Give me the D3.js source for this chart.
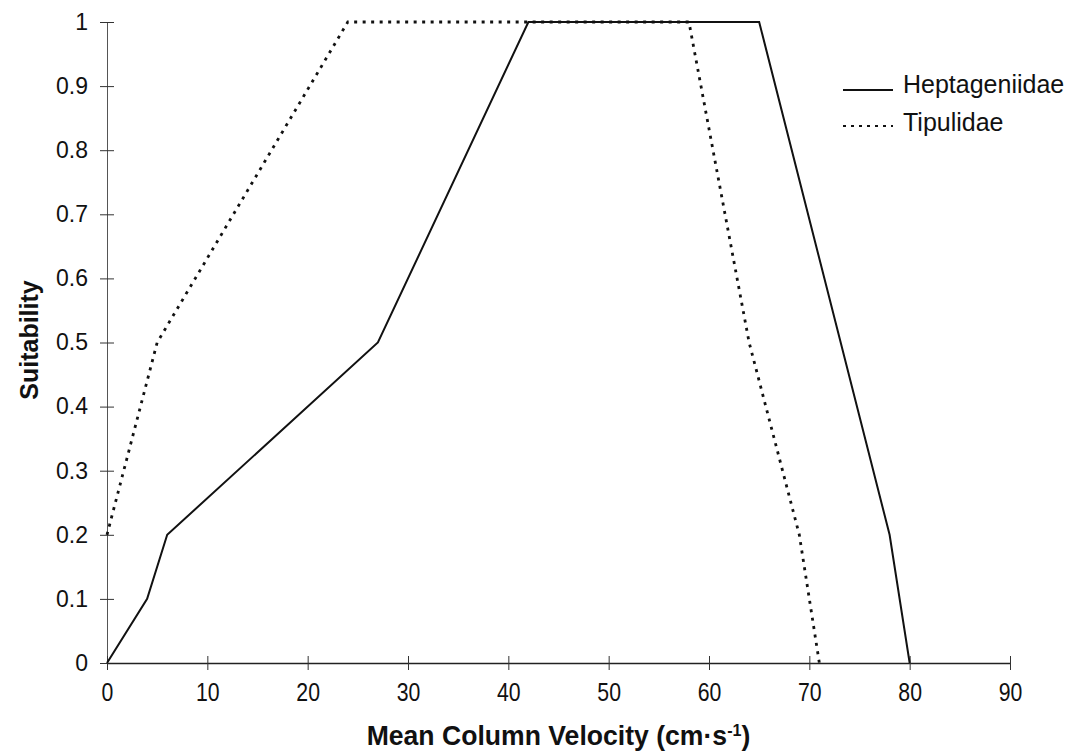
<!DOCTYPE html>
<html>
<head>
<meta charset="utf-8">
<script src="https://cdn.jsdelivr.net/npm/d3@7"></script>
<style>
  body { margin: 0; background: #fff; }
  svg { display: block; font-family: "Liberation Sans", Arial, sans-serif; }
</style>
</head>
<body>
<svg id="chart" width="1086" height="755"></svg>
<script>
// suitability curves
var heptVelocity = [0, 4, 6, 27, 42, 65, 78, 80];
var heptSuit     = [0, 0.1, 0.2, 0.5, 1, 1, 0.2, 0];
var tipuVelocity = [0, 5, 24, 58, 64, 69, 71];
var tipuSuit     = [0.2, 0.5, 1, 1, 0.5, 0.2, 0];

var xTicks = [0, 10, 20, 30, 40, 50, 60, 70, 80, 90];
var yTicks = [0, 0.1, 0.2, 0.3, 0.4, 0.5, 0.6, 0.7, 0.8, 0.9, 1];
var seriesNames = ["Heptageniidae", "Tipulidae"];

(function () {
    var svg = d3.select("#chart");
    var plot = {left: 107, right: 1010, top: 22, bottom: 663};

    var x = d3.scaleLinear().domain([0, 90]).range([plot.left, plot.right]);
    var y = d3.scaleLinear().domain([0, 1]).range([plot.bottom, plot.top]);

    // y axis, ticks cross the line
    var yAxis = svg.append("g")
        .attr("transform", "translate(" + plot.left + ",0)")
        .call(d3.axisLeft(y).tickValues(yTicks).tickSize(7).tickSizeOuter(0).tickPadding(12)
            .tickFormat(function(d) { return d === 0 || d === 1 ? d : d3.format(".1f")(d); }));
    yAxis.select(".domain").attr("stroke", "#555").attr("stroke-width", 1);
    yAxis.selectAll(".tick line").attr("x1", 7).attr("stroke", "#333");
    yAxis.selectAll(".tick text")
        .attr("font-size", 23).attr("fill", "#111")
        .attr("font-family", "'Liberation Sans', Arial, sans-serif");

    // x axis
    var xAxis = svg.append("g")
        .attr("transform", "translate(0," + plot.bottom + ")")
        .call(d3.axisBottom(x).tickValues(xTicks).tickSize(7).tickSizeOuter(0));
    xAxis.select(".domain").attr("stroke", "#222").attr("stroke-width", 1.5);
    xAxis.selectAll(".tick line").attr("y1", -7).attr("stroke", "#333");
    xAxis.selectAll(".tick text")
        .attr("y", 38).attr("dy", 0)
        .attr("font-size", 25).attr("fill", "#111")
        .attr("transform", "scale(0.85,1)")
        .attr("font-family", "'Liberation Sans', Arial, sans-serif");

    // axis titles
    var xTitle = svg.append("text")
        .attr("transform", "translate(" + ((plot.left + plot.right) / 2) + ",745) scale(0.95,1)")
        .attr("text-anchor", "middle")
        .attr("font-size", 28).attr("font-weight", "bold").attr("fill", "#111");
    xTitle.append("tspan").text("Mean Column Velocity (cm\u00B7s");
    xTitle.append("tspan").attr("baseline-shift", "super").attr("font-size", 17).text("-1");
    xTitle.append("tspan").text(")");

    svg.append("text")
        .attr("transform", "translate(38,340) rotate(-90)")
        .attr("text-anchor", "middle")
        .attr("font-size", 25).attr("font-weight", "bold").attr("fill", "#111")
        .text("Suitability");

    var line = d3.line()
        .x(function(d) { return x(d[0]); })
        .y(function(d) { return y(d[1]); });

    svg.append("path")
        .datum(d3.zip(tipuVelocity, tipuSuit))
        .attr("d", line)
        .attr("fill", "none").attr("stroke", "#111")
        .attr("stroke-width", 2.8).attr("stroke-dasharray", "3,5.5");

    svg.append("path")
        .datum(d3.zip(heptVelocity, heptSuit))
        .attr("d", line)
        .attr("fill", "none").attr("stroke", "#111")
        .attr("stroke-width", 2);

    // legend
    var legend = svg.append("g").attr("transform", "translate(843,90)");
    legend.append("line").attr("x1", 0).attr("x2", 50).attr("y1", 0).attr("y2", 0)
        .attr("stroke", "#111").attr("stroke-width", 2);
    legend.append("line").attr("x1", 0).attr("x2", 50).attr("y1", 36).attr("y2", 36)
        .attr("stroke", "#111").attr("stroke-width", 2.2).attr("stroke-dasharray", "3,5");
    legend.selectAll("text.lbl")
        .data(seriesNames)
        .enter().append("text")
        .attr("class", "lbl")
        .attr("x", 60)
        .attr("y", function(d, i) { return 3 + i * 38; })
        .attr("font-size", 25).attr("fill", "#111")
        .text(function(d) { return d; });
}());
</script>
</body>
</html>
